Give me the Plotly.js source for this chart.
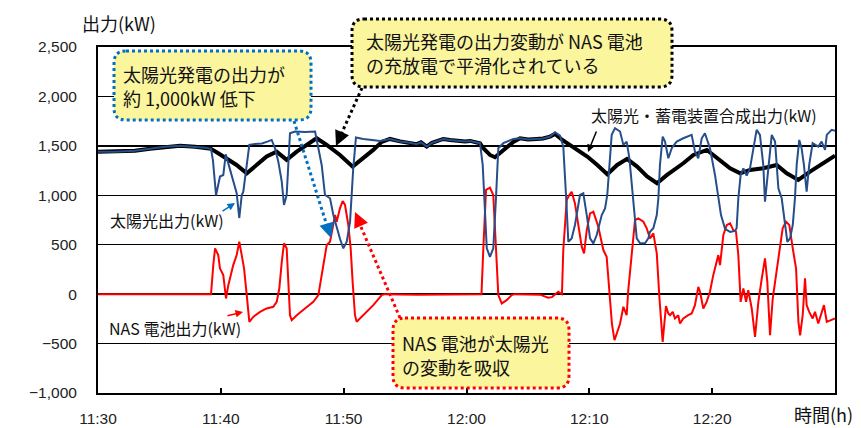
<!DOCTYPE html>
<html>
<head>
<meta charset="utf-8">
<script src="https://cdn.plot.ly/plotly-3.0.1.min.js"></script>
<style>html,body{margin:0;padding:0;background:#fff;}#chart{width:861px;height:428px;}</style>
</head>
<body>
<div id="chart"></div>
<script>
// ---- data (minutes after 11:30, kW) ----
const tickValues = [0, 10, 20, 30, 40, 50];
const tickLabels = ["11:30", "11:40", "11:50", "12:00", "12:10", "12:20"];

const solarMin = [0,1.38,3.01,4.23,5.45,6.68,7.90,8.71,9.20,9.36,9.61,9.93,10.20,10.40,10.66,10.99,11.29,11.50,11.70,11.83,12.11,12.32,12.78,13.35,13.84,14.14,14.41,14.68,14.96,15.14,15.36,15.49,15.63,16.04,16.85,17.67,17.94,18.21,18.48,18.89,19.16,19.43,19.70,19.97,20.25,20.52,20.78,21.00,21.60,22.31,22.96,23.77,24.59,25.24,25.95,26.30,26.76,27.19,28.11,28.66,29.20,29.88,30.29,31.10,31.32,31.51,31.65,31.91,32.18,32.40,32.59,33.00,33.81,34.36,35.01,35.71,36.23,36.80,37.21,37.61,37.88,38.10,38.29,38.56,38.83,39.24,39.51,39.79,40.06,40.33,40.60,41.01,41.28,41.46,41.63,41.82,42.09,42.50,42.77,43.04,43.26,43.58,43.86,44.13,44.53,44.80,44.94,45.21,45.49,45.62,45.75,45.97,46.16,46.43,46.71,47.11,47.65,48.33,48.60,48.87,49.15,49.41,49.82,50.23,50.47,50.72,51.05,51.46,51.87,51.99,52.13,52.32,52.54,52.81,53.08,53.35,53.62,53.89,54.16,54.30,54.57,54.85,55.12,55.39,55.66,55.93,56.12,56.34,56.56,56.74,56.88,57.09,57.28,57.47,57.69,57.90,58.18,58.41,58.64,58.91,59.19,59.33,59.73,60.00];
const solarKW = [1440,1440,1450,1470,1490,1500,1490,1480,1470,1350,1000,1190,1205,1415,1300,1140,1020,770,1000,1036,1340,1510,1520,1525,1545,1560,1476,1340,1138,902,1003,1307,1628,1645,1640,1645,1476,1307,1003,970,800,666,560,463,530,733,1273,1585,1570,1560,1550,1570,1545,1535,1517,1535,1493,1530,1570,1560,1550,1545,1550,1527,1307,800,463,378,463,970,1476,1527,1570,1577,1565,1570,1575,1594,1638,1604,1493,1003,530,564,699,1003,1020,800,564,514,598,800,868,1003,1307,1611,1679,1645,1510,1543,1375,970,564,514,514,564,631,666,800,970,1307,1594,1543,1375,1476,1543,1577,1611,1442,1375,1577,1628,1476,1206,1000,800,660,630,640,666,970,1206,1273,1200,1273,1476,1662,1611,1307,935,1307,1611,1543,1071,970,733,530,564,699,970,1307,1560,1476,1307,1036,1307,1527,1510,1493,1543,1459,1611,1662,1652];

const nasMin = [0,4.23,9.20,9.39,9.53,9.79,9.93,10.20,10.42,10.61,11.01,11.29,11.50,11.70,11.89,12.11,12.32,12.64,13.19,13.73,14.27,14.55,14.76,14.96,15.14,15.36,15.49,15.63,15.77,16.18,16.85,17.53,17.94,18.21,18.48,18.62,18.89,19.16,19.30,19.43,19.70,19.92,20.11,20.38,20.57,20.73,20.92,21.06,21.60,22.41,23.10,23.37,26.00,29.00,31.22,31.37,31.59,31.91,32.18,32.40,32.59,32.87,33.27,33.68,33.95,35.98,36.64,36.96,37.29,37.47,37.69,37.77,37.88,38.16,38.37,38.56,38.83,39.10,39.38,39.57,39.79,40.06,40.33,40.73,41.14,41.41,41.68,41.84,42.05,42.25,42.50,42.77,43.04,43.17,43.45,43.72,43.99,44.40,44.67,44.94,45.21,45.49,45.70,45.97,46.24,46.43,46.57,46.79,46.97,47.24,47.38,47.65,48.05,48.33,48.60,48.87,49.01,49.28,49.55,49.82,50.09,50.37,50.50,50.64,50.78,50.91,51.19,51.46,51.72,51.94,52.13,52.32,52.54,52.76,52.94,53.22,53.49,53.76,54.04,54.30,54.49,54.71,54.93,55.19,55.47,55.74,56.01,56.28,56.56,56.83,57.02,57.16,57.37,57.56,57.69,57.90,58.18,58.37,58.64,58.91,59.10,59.33,59.61,60.00];
const nasKW = [0,-3,0,300,463,395,260,192,-44,91,294,395,530,395,260,-10,-280,-230,-179,-145,-128,-78,57,327,514,463,192,-213,-263,-213,-145,-78,-10,192,395,497,530,700,800,733,868,942,902,699,463,125,-213,-280,-213,-111,-10,0,-5,-3,0,463,1054,1077,1003,463,-10,-94,-61,-10,0,-5,-37,-30,0,24,5,0,446,952,1003,1036,918,716,480,412,648,817,834,682,446,378,-27,-300,-466,-380,-300,-128,-213,40,446,750,767,733,666,564,615,412,-27,-483,-120,-196,-213,-179,-246,-213,-297,-246,-213,-196,-111,74,24,-145,-78,24,192,327,395,294,463,598,699,716,648,631,395,-78,57,-78,40,-145,-432,-78,159,362,125,-416,-44,192,395,666,733,700,463,260,-280,-416,-213,159,-111,-179,-246,-179,-297,-179,-111,-280,-263,-246];

const totalMin = [0,1.38,3.01,4.23,5.45,6.68,7.90,8.71,9.20,9.79,10.47,11.28,12.11,12.92,13.73,14.54,15.36,16.18,16.99,17.80,18.62,19.70,20.73,21.60,22.41,23.10,23.77,24.59,25.24,25.95,26.30,26.76,27.19,28.11,28.66,29.20,29.88,30.29,31.10,31.37,31.91,32.32,33.00,33.81,34.36,35.01,35.71,36.23,36.80,37.21,37.80,38.21,39.02,39.83,40.65,41.46,42.27,43.07,43.89,44.70,45.51,46.33,47.65,48.47,49.57,50.38,51.46,52.28,53.08,54.16,55.25,56.07,57.01,57.97,59.05,59.86,60.00];
const totalKW = [1440,1440,1450,1470,1490,1500,1490,1480,1470,1425,1375,1307,1222,1307,1392,1442,1358,1442,1510,1577,1510,1408,1290,1375,1459,1540,1570,1545,1535,1517,1535,1493,1530,1570,1560,1550,1545,1550,1527,1476,1408,1385,1459,1540,1577,1565,1570,1575,1594,1620,1560,1527,1459,1392,1307,1213,1307,1368,1290,1190,1122,1206,1324,1408,1459,1375,1273,1222,1256,1273,1307,1222,1155,1239,1324,1392,1400];

// ---- geometry helpers (plot area: x 98..835 px, y 47..393 px) ----
const L = 98, R = 835, T = 47, B = 393;
const px = x => (x - L) / (R - L);
const py = y => (B - y) / (B - T);

function roundedBox(x0, y0, x1, y1, r) {
  const a = px(x0), b = px(x1), top = py(y0), bot = py(y1);
  const rx = r / (R - L), ry = r / (B - T);
  return `M${a + rx},${top} L${b - rx},${top} Q${b},${top} ${b},${top - ry} ` +
         `L${b},${bot + ry} Q${b},${bot} ${b - rx},${bot} L${a + rx},${bot} ` +
         `Q${a},${bot} ${a},${bot + ry} L${a},${top - ry} Q${a},${top} ${a + rx},${top} Z`;
}
function dotLine(x0, y0, x1, y1, color) {
  return {type: 'line', xref: 'paper', yref: 'paper', x0: px(x0), y0: py(y0), x1: px(x1), y1: py(y1),
          line: {color: color, width: 3, dash: 'dot'}, layer: 'above'};
}
function head(tx, ty, ax, ay, color) {
  return {xref: 'paper', yref: 'paper', x: px(tx), y: py(ty), ax: ax, ay: ay, text: '',
          showarrow: true, arrowhead: 2, arrowsize: 1.2, arrowwidth: 2.5, arrowcolor: color, standoff: 0};
}

const jp = '"Noto Sans CJK JP", "Noto Sans", sans-serif';
const yellow = '#FBF59E';

function label(x, y, text, size) {
  return {xref: 'paper', yref: 'paper', x: px(x), y: py(y), xanchor: 'left', yanchor: 'middle', align: 'left',
          text: text, showarrow: false, font: {family: jp, size: size, color: '#111'}};
}

const traces = [
  {x: totalMin, y: totalKW, type: 'scatter', mode: 'lines', name: '太陽光・蓄電装置合成出力',
   line: {color: '#000000', width: 4}},
  {x: nasMin, y: nasKW, type: 'scatter', mode: 'lines', name: 'NAS 電池出力',
   line: {color: '#FF0000', width: 2}},
  {x: solarMin, y: solarKW, type: 'scatter', mode: 'lines', name: '太陽光出力',
   line: {color: '#254E8A', width: 2}}
];

const shapes = [
  {type: 'path', xref: 'paper', yref: 'paper', path: roundedBox(114, 51, 311, 120, 12),
   fillcolor: yellow, line: {color: '#0070C0', width: 3, dash: 'dot'}, layer: 'above'},
  {type: 'path', xref: 'paper', yref: 'paper', path: roundedBox(352, 19, 672, 87, 12),
   fillcolor: yellow, line: {color: '#000000', width: 3, dash: 'dot'}, layer: 'above'},
  {type: 'path', xref: 'paper', yref: 'paper', path: roundedBox(393, 318, 569, 388, 12),
   fillcolor: yellow, line: {color: '#FF0000', width: 3, dash: 'dot'}, layer: 'above'},
  dotLine(294, 121, 328, 229, '#0070C0'),
  dotLine(362, 88, 339, 139, '#000000'),
  dotLine(400, 318, 358, 220, '#FF0000')
];

const annotations = [
  label(121, 74, '太陽光発電の出力が', 18),
  label(121, 98, '約 1,000kW 低下', 18),
  label(364, 41, '太陽光発電の出力変動が NAS 電池', 18),
  label(364, 65, 'の充放電で平滑化されている', 18),
  label(400, 343, 'NAS 電池が太陽光', 18),
  label(400, 367, 'の変動を吸収', 18),
  label(589, 115, '太陽光・蓄電装置合成出力(kW)', 16),
  label(108, 220, '太陽光出力(kW)', 16),
  label(107, 328, 'NAS 電池出力(kW)', 16),
  label(80, 23, '出力(kW)', 18),
  label(792, 414, '時間(h)', 18),
  // solid pointer arrows
  {xref: 'paper', yref: 'paper', x: px(588), y: py(152), ax: 9, ay: -22, text: '', showarrow: true,
   arrowhead: 2, arrowsize: 1, arrowwidth: 1.5, arrowcolor: '#000', standoff: 0},
  {xref: 'paper', yref: 'paper', x: px(235), y: py(203), ax: -14, ay: 9, text: '', showarrow: true,
   arrowhead: 2, arrowsize: 1, arrowwidth: 1.5, arrowcolor: '#0070C0', standoff: 0},
  {xref: 'paper', yref: 'paper', x: px(243), y: py(312), ax: -17, ay: 4, text: '', showarrow: true,
   arrowhead: 2, arrowsize: 1, arrowwidth: 1.5, arrowcolor: '#FF0000', standoff: 0},
  // heads of dotted arrows
  head(331, 238, -3, -10, '#0070C0'),
  head(336, 146, 4, -9, '#000000'),
  head(355, 212, 4, 9, '#FF0000')
];

const layout = {
  width: 861, height: 428,
  margin: {l: L, r: 861 - R, t: T, b: 428 - B, pad: 0},
  paper_bgcolor: '#ffffff', plot_bgcolor: '#ffffff',
  showlegend: false,
  font: {family: '"Liberation Sans", Arial, sans-serif', size: 15.5, color: '#222'},
  xaxis: {
    range: [0, 60], tickvals: tickValues, ticktext: tickLabels,
    ticks: 'inside', ticklen: 5, tickwidth: 2, tickcolor: '#000',
    showgrid: false, zeroline: false, showline: true, linecolor: '#000', linewidth: 2, mirror: true,
    ticklabelstandoff: 10, tickfont: {size: 15.5}
  },
  yaxis: {
    range: [-1000, 2500], dtick: 500, tickformat: ',d',
    ticks: '', showgrid: true, gridcolor: '#000', gridwidth: 1.5, zeroline: false,
    showline: true, linecolor: '#000', linewidth: 2, mirror: true,
    ticklabelstandoff: 16, tickfont: {size: 15.5}
  },
  shapes: shapes,
  annotations: annotations
};

Plotly.newPlot('chart', traces, layout, {displayModeBar: false, staticPlot: true});
</script>
</body>
</html>
